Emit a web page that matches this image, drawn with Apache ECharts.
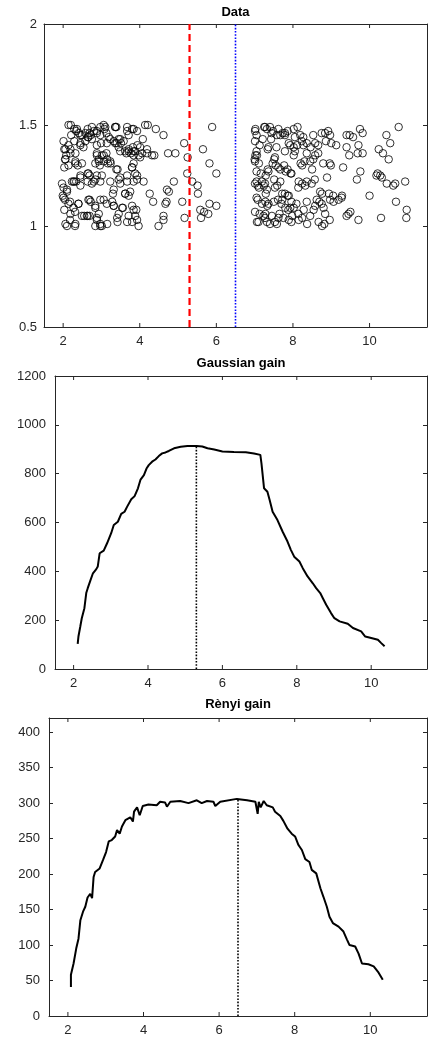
<!DOCTYPE html>
<html><head><meta charset="utf-8">
<script src="https://cdn.jsdelivr.net/npm/echarts@6/dist/echarts.min.js"></script>
<style>html,body{margin:0;padding:0;background:#fff}#c{width:430px;height:1039px}</style>
</head><body><div id="c"></div><script>
// ---------- DATA ----------
const scatterX = [
2.14,2.20,2.29,2.34,2.21,2.41,2.49,2.64,2.69,2.72,2.64,2.80,2.88,2.97,3.06,3.08,3.13,2.97,3.36,3.39,3.19,3.23,3.45,3.67,3.80,3.93,3.71,4.08,4.21,4.42,4.62,
2.01,2.14,2.29,2.45,2.58,2.75,2.88,2.99,3.32,3.40,3.51,3.58,3.82,3.94,4.01,4.19,
2.03,2.08,2.05,2.19,2.32,2.45,2.53,2.88,2.93,3.01,3.13,3.15,3.24,3.45,3.49,3.62,3.65,3.71,3.77,3.84,3.88,3.97,4.01,4.19,4.32,4.38,4.74,4.93,
2.03,2.14,2.32,2.38,2.49,2.45,2.64,2.69,2.84,2.96,3.06,3.17,3.39,3.42,3.67,3.80,3.84,3.88,3.93,2.88,3.01,
2.01,2.10,2.23,2.29,2.34,2.45,2.64,2.75,2.84,2.97,3.23,3.45,3.49,3.62,3.75,3.84,4.10,4.76,4.89,
1.99,2.05,2.18,2.27,2.40,2.69,2.72,2.84,2.97,3.06,3.30,3.28,3.32,3.56,3.71,3.80,3.91,4.26,4.35,4.67,4.70,5.11,2.03,
2.31,2.55,2.64,2.69,2.93,3.45,3.71,3.88,2.18,2.88,3.15,3.42,3.80,2.10,2.31,2.84,2.97,3.01,3.97,4.49,4.62,4.62,5.17,
2.36,2.58,2.75,2.88,2.66,2.45,2.06,2.19,2.06,2.32,2.88,2.93,1.97,2.10,2.27,2.45,2.66,2.80,2.01,2.14,2.40,2.66,2.84,2.19,2.49,2.62,2.88,2.06,2.32,2.97,
3.10,3.36,3.67,3.84,4.14,3.14,3.36,3.49,3.71,3.84,4.06,3.06,3.23,3.80,3.49,3.67,3.93,3.32,3.62,3.14,3.32,3.54,3.84,3.41,3.67,3.93,
5.16,5.25,5.24,5.37,5.51,5.52,5.65,5.82,5.89,6.00,5.58,5.68,5.79,6.00,5.82,5.60,4.71,
7.02,7.05,7.25,7.32,7.40,7.48,7.58,7.67,7.73,7.79,7.86,8.02,8.12,8.19,8.27,8.53,8.75,8.84,8.92,8.97,9.40,9.48,9.57,9.75,9.82,10.44,10.54,10.76,
7.13,7.21,7.34,7.43,7.57,7.89,7.93,8.02,8.11,8.23,8.27,8.36,8.46,8.58,8.66,8.86,9.00,9.13,9.40,9.47,9.71,9.69,9.82,10.24,10.35,10.50,7.02,7.06,8.02,8.36,8.58,8.66,
7.00,7.11,7.16,7.29,7.34,7.47,7.51,7.55,7.67,7.77,7.81,7.86,7.94,8.20,8.24,8.30,8.45,8.50,8.53,8.79,8.96,8.99,9.31,9.76,9.67,10.18,10.28,10.32,10.21,8.89,
7.05,7.08,7.11,7.19,7.24,7.32,7.29,7.51,7.59,7.67,7.72,7.86,7.89,8.15,8.24,8.32,8.36,8.49,8.57,8.71,8.76,8.94,9.05,9.28,10.00,10.45,10.62,10.67,10.93,10.69,
7.08,7.19,7.28,7.33,7.50,7.61,7.72,7.80,7.93,8.02,8.09,8.28,8.36,8.58,8.62,8.69,8.75,8.80,8.84,8.97,9.06,9.19,9.27,9.45,9.50,7.13,7.28,7.45,7.65,7.88,8.54,10.97,
7.06,7.23,7.32,7.40,7.53,7.58,7.75,7.89,7.98,8.15,8.24,8.37,8.45,8.67,8.76,8.82,8.96,9.40,9.71,10.30,10.96,
7.01,7.01,7.05,7.01,7.05,7.01,7.05,7.01,7.10,7.27,7.44,7.62,7.79,8.05,7.36,7.53,7.79,8.05,7.36,7.62,7.96,7.27,7.53,7.79,8.14,7.36,7.70,7.96,7.27,7.62,7.96,8.14
];
const scatterY = [
1.50,1.50,1.48,1.47,1.45,1.46,1.45,1.48,1.46,1.45,1.44,1.47,1.46,1.49,1.50,1.48,1.46,1.45,1.49,1.49,1.44,1.43,1.43,1.49,1.48,1.47,1.45,1.43,1.50,1.48,1.45,
1.42,1.40,1.42,1.41,1.42,1.43,1.40,1.41,1.42,1.41,1.41,1.42,1.39,1.40,1.39,1.38,
1.38,1.35,1.33,1.38,1.36,1.40,1.39,1.35,1.33,1.35,1.36,1.33,1.31,1.39,1.37,1.37,1.36,1.37,1.36,1.35,1.37,1.35,1.34,1.36,1.35,1.35,1.36,1.36,
1.29,1.30,1.31,1.30,1.31,1.25,1.26,1.25,1.31,1.30,1.32,1.31,1.28,1.28,1.25,1.29,1.31,1.26,1.25,1.25,1.25,
1.19,1.17,1.22,1.22,1.22,1.20,1.22,1.21,1.23,1.22,1.22,1.23,1.21,1.16,1.17,1.22,1.22,1.17,1.22,
1.15,1.13,1.12,1.09,1.11,1.13,1.12,1.10,1.13,1.13,1.16,1.12,1.10,1.09,1.15,1.10,1.08,1.16,1.12,1.11,1.12,1.12,1.08,
1.07,1.05,1.05,1.05,1.06,1.06,1.05,1.05,1.03,1.03,1.01,1.02,1.02,1.00,1.00,1.00,1.00,1.00,1.00,1.00,1.03,1.05,1.04,
1.48,1.46,1.49,1.47,1.44,1.45,1.38,1.36,1.33,1.32,1.36,1.32,1.21,1.18,1.22,1.24,1.26,1.22,1.14,1.11,1.11,1.13,1.09,1.06,1.05,1.05,1.04,1.01,1.01,1.01,
1.49,1.49,1.47,1.48,1.50,1.41,1.41,1.43,1.38,1.37,1.36,1.35,1.32,1.29,1.24,1.22,1.23,1.18,1.16,1.11,1.10,1.09,1.08,1.04,1.02,1.03,
1.41,1.34,1.26,1.22,1.20,1.16,1.38,1.31,1.49,1.26,1.08,1.07,1.06,1.10,1.11,1.04,1.18,
1.48,1.45,1.49,1.48,1.49,1.47,1.45,1.45,1.46,1.45,1.47,1.48,1.49,1.45,1.44,1.45,1.46,1.46,1.47,1.45,1.45,1.45,1.44,1.48,1.46,1.45,1.41,1.49,
1.40,1.43,1.38,1.43,1.39,1.41,1.40,1.39,1.40,1.42,1.40,1.41,1.39,1.41,1.40,1.42,1.41,1.40,1.39,1.35,1.40,1.36,1.36,1.38,1.36,1.33,1.35,1.35,1.35,1.36,1.35,1.36,
1.33,1.31,1.26,1.25,1.28,1.31,1.33,1.30,1.28,1.30,1.27,1.28,1.26,1.31,1.30,1.32,1.32,1.28,1.33,1.31,1.31,1.30,1.29,1.27,1.23,1.25,1.25,1.24,1.26,1.24,
1.22,1.20,1.19,1.22,1.20,1.18,1.16,1.23,1.20,1.22,1.16,1.15,1.15,1.22,1.21,1.20,1.22,1.21,1.23,1.17,1.16,1.16,1.15,1.15,1.15,1.21,1.20,1.21,1.22,1.12,
1.13,1.11,1.12,1.10,1.12,1.13,1.13,1.09,1.09,1.09,1.11,1.08,1.12,1.10,1.13,1.12,1.11,1.09,1.06,1.13,1.12,1.13,1.14,1.06,1.07,1.06,1.06,1.05,1.06,1.08,1.08,1.08,
1.02,1.05,1.02,1.01,1.02,1.01,1.04,1.03,1.05,1.03,1.04,1.01,1.05,1.02,1.00,1.01,1.03,1.05,1.03,1.04,1.04,
1.47,1.42,1.37,1.32,1.27,1.21,1.14,1.07,1.02,1.49,1.46,1.48,1.46,1.44,1.39,1.34,1.37,1.37,1.27,1.29,1.26,1.21,1.19,1.16,1.19,1.11,1.11,1.12,1.04,1.04,1.02,1.06
];
const splitGaussian = 5.3;
const splitRenyi = 6.5;
const gaussX = [2.11,2.13,2.18,2.22,2.29,2.34,2.38,2.45,2.52,2.61,2.65,2.70,2.81,2.90,3.01,3.08,3.19,3.28,3.37,3.44,3.55,3.64,3.73,3.80,3.89,3.96,4.02,4.11,4.20,4.29,4.38,4.47,4.56,4.70,4.88,5.06,5.31,5.46,5.60,5.78,6.00,6.31,6.63,6.85,7.02,7.05,7.12,7.21,7.27,7.35,7.48,7.62,7.75,7.84,7.93,8.07,8.16,8.29,8.43,8.52,8.63,8.70,8.79,8.92,9.01,9.15,9.37,9.51,9.73,9.84,10.00,10.18,10.27,10.36];
const gaussY = [103,133,174,208,249,311,331,362,392,409,420,474,485,515,556,590,603,635,644,665,695,708,740,776,794,821,835,849,858,872,883,887,893,904,910,913,913,911,904,899,891,889,888,883,877,842,740,726,692,644,610,562,522,488,460,440,413,379,351,331,311,290,263,229,208,195,185,168,154,133,127,120,106,93];
const renyiX = [2.08,2.08,2.12,2.15,2.22,2.28,2.33,2.40,2.46,2.52,2.59,2.64,2.68,2.72,2.84,2.93,3.01,3.08,3.16,3.25,3.30,3.37,3.43,3.52,3.65,3.72,3.75,3.83,3.90,3.98,4.13,4.35,4.44,4.57,4.62,4.71,4.97,5.19,5.41,5.54,5.68,5.85,5.90,6.03,6.47,6.74,6.96,7.02,7.05,7.10,7.18,7.26,7.42,7.48,7.62,7.70,7.81,7.92,8.01,8.10,8.19,8.28,8.39,8.45,8.57,8.68,8.76,8.85,8.92,9.01,9.16,9.29,9.38,9.45,9.60,9.69,9.78,9.95,10.09,10.22,10.33];
const renyiY = [41,58,56,74,95,109,135,147,154,167,172,166,196,203,208,220,231,246,248,253,262,257,267,276,280,274,288,294,283,296,298,297,302,301,295,302,303,300,304,300,303,302,296,302,306,304,302,285,302,294,303,297,294,288,282,275,264,257,253,241,234,221,217,206,201,180,168,154,140,131,126,119,108,100,98,88,74,73,70,61,51];
const titles = ['Data', 'Gaussian gain', 'Rènyi gain'];
const xTicks = [2, 4, 6, 8, 10];
const yRanges = [[0.5, 2, 0.5], [0, 1200, 200], [0, 420, 50]];
const xRange = [1.5, 11.5];

// ---------- LAYOUT ----------
const FONT = "'Liberation Sans', Arial, Helvetica, sans-serif";
const AX = '#262626';
const grids = [
  {left: 44, right: 3, top: 24, height: 303},
  {left: 55, right: 3, top: 376, height: 293},
  {left: 49, right: 3, top: 718, height: 298}
];
const titleTops = [6, 357, 698];
const yMargins = [7, 9, 9];

const xAxes = [], yAxes = [];
grids.forEach((g, i) => {
  const lineCfg = {show: true, onZero: false, lineStyle: {color: AX, width: 1}};
  const isEvenInt = v => Math.abs(v - Math.round(v)) < 1e-6 && Math.round(v) % 2 === 0;
  xAxes.push({
    type: 'value', gridIndex: i, min: xRange[0], max: xRange[1], interval: 0.5, position: 'bottom',
    axisLine: lineCfg, axisTick: {show: false}, splitLine: {show: false},
    axisLabel: {show: true, margin: 8, color: AX, fontSize: 13, fontFamily: FONT,
      showMinLabel: false, showMaxLabel: false,
      formatter: v => isEvenInt(v) ? String(Math.round(v)) : ''}
  });
  xAxes.push({
    type: 'value', gridIndex: i, min: xRange[0], max: xRange[1], interval: 0.5, position: 'top',
    axisLine: lineCfg, axisTick: {show: false}, splitLine: {show: false}, axisLabel: {show: false}
  });
  const yr = yRanges[i];
  yAxes.push({
    type: 'value', gridIndex: i, min: yr[0], max: yr[1], interval: yr[2], position: 'left',
    axisLine: lineCfg, axisTick: {show: true, inside: true, length: 4, lineStyle: {color: AX}},
    splitLine: {show: false},
    axisLabel: {show: true, margin: yMargins[i], color: AX, fontSize: 13, fontFamily: FONT,
      formatter: v => (v > 400 && i === 2) ? '' : String(v)}
  });
  yAxes.push({
    type: 'value', gridIndex: i, min: yr[0], max: yr[1], interval: yr[2], position: 'right',
    axisLine: lineCfg, axisTick: {show: true, inside: true, length: 4, lineStyle: {color: AX}},
    splitLine: {show: false}, axisLabel: {show: false}
  });
});

function tickSeries(i) {
  return {
    type: 'custom', xAxisIndex: 2 * i, yAxisIndex: 2 * i, silent: true, clip: false, z: 5,
    data: xTicks.map(v => [v, yRanges[i][0]]),
    encode: {x: 0, y: 1},
    renderItem: (params, api) => {
      const cs = params.coordSys;
      const px = api.coord([api.value(0), api.value(1)])[0];
      const st = {stroke: AX, lineWidth: 1};
      return {type: 'group', children: [
        {type: 'line', shape: {x1: px, y1: cs.y + cs.height, x2: px, y2: cs.y + cs.height - 4}, style: st},
        {type: 'line', shape: {x1: px, y1: cs.y, x2: px, y2: cs.y + 4}, style: st}
      ]};
    }
  };
}

const zip = (a, b) => a.map((v, k) => [v, b[k]]);

const series = [
  {type: 'scatter', xAxisIndex: 0, yAxisIndex: 0, data: zip(scatterX, scatterY),
    symbol: 'circle', symbolSize: 7.5,
    itemStyle: {color: 'rgba(0,0,0,0)', borderColor: '#000', borderWidth: 1}, silent: true},
  {type: 'line', xAxisIndex: 0, yAxisIndex: 0, data: [[splitGaussian, yRanges[0][0]], [splitGaussian, yRanges[0][1]]],
    symbol: 'none', lineStyle: {color: '#ff0000', width: 2.2, type: [7, 4]}, silent: true, z: 3},
  {type: 'line', xAxisIndex: 0, yAxisIndex: 0, data: [[splitRenyi, yRanges[0][0]], [splitRenyi, yRanges[0][1]]],
    symbol: 'none', lineStyle: {color: '#0000ff', width: 1.6, type: [1.6, 1.6]}, silent: true, z: 3},
  {type: 'line', xAxisIndex: 2, yAxisIndex: 2, data: zip(gaussX, gaussY),
    symbol: 'none', lineStyle: {color: '#000', width: 2}, silent: true},
  {type: 'line', xAxisIndex: 2, yAxisIndex: 2, data: [[splitGaussian, 0], [splitGaussian, Math.max(...gaussY)]],
    symbol: 'none', lineStyle: {color: '#000', width: 1.6, type: [1.6, 1.6]}, silent: true},
  {type: 'line', xAxisIndex: 4, yAxisIndex: 4, data: zip(renyiX, renyiY),
    symbol: 'none', lineStyle: {color: '#000', width: 2}, silent: true},
  {type: 'line', xAxisIndex: 4, yAxisIndex: 4, data: [[splitRenyi, 0], [splitRenyi, Math.max(...renyiY)]],
    symbol: 'none', lineStyle: {color: '#000', width: 1.6, type: [1.6, 1.6]}, silent: true},
  tickSeries(0), tickSeries(1), tickSeries(2)
];

const chart = echarts.init(document.getElementById('c'), null, {renderer: 'canvas'});
chart.setOption({
  animation: false,
  backgroundColor: '#fff',
  title: titles.map((t, i) => ({
    text: t, left: grids[i].left + (430 - grids[i].right - grids[i].left) / 2, top: titleTops[i],
    textAlign: 'center', padding: 0,
    textStyle: {fontSize: 13, fontWeight: 'bold', color: '#000', fontFamily: FONT}
  })),
  grid: grids.map(g => Object.assign({containLabel: false}, g)),
  xAxis: xAxes,
  yAxis: yAxes,
  series: series
});
</script></body></html>
